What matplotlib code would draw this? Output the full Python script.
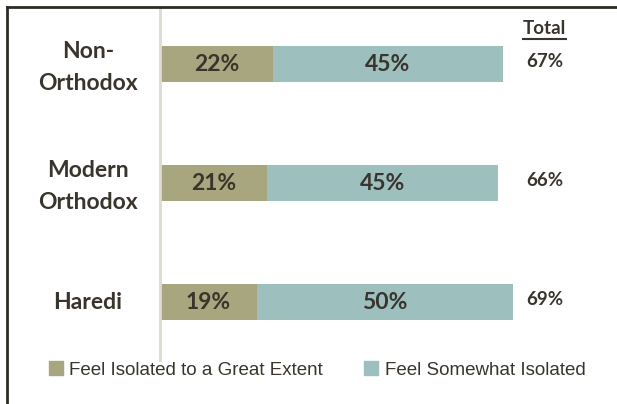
import matplotlib
matplotlib.use("Agg")
import matplotlib.pyplot as plt
from matplotlib.lines import Line2D
from matplotlib.patches import Patch
from matplotlib import transforms

# ── data ──────────────────────────────────────────────────────────────────────
groups = ["Haredi", "Modern\nOrthodox", "Non-\nOrthodox"]
great_extent = [19, 21, 22]
somewhat = [50, 45, 45]
series_names = ["Feel Isolated to a Great Extent", "Feel Somewhat Isolated"]

olive = "#A8A67E"
teal = "#9DBFBE"
ink = "#39352D"

plt.rcParams["font.family"] = ["Lato", "DejaVu Sans"]

fig = plt.figure(figsize=(6.17, 4.04), dpi=100)
ax = fig.add_axes([160 / 617, 1 - 360 / 404, 457 / 617, 353 / 404])

ypos = list(range(len(groups)))
ax.barh(ypos, great_extent, height=0.31, color=olive)
ax.barh(ypos, somewhat, left=great_extent, height=0.31, color=teal)

ax.set_xlim(0, 89.3)
ax.set_ylim(-0.487, 2.479)

for y, a, b in zip(ypos, great_extent, somewhat):
    ax.text(a / 2, y, f"{a}%", ha="center", va="center",
            fontsize=16.5, fontweight="bold", color=ink)
    ax.text(a + b / 2, y, f"{b}%", ha="center", va="center",
            fontsize=16.5, fontweight="bold", color=ink)
    ax.text(75.2, y + 0.02, f"{a + b}%", ha="center", va="center",
            fontsize=13.5, fontweight="bold", color=ink)

tot = ax.text(75.2, 2.30, "Total", ha="center", va="center",
              fontsize=13.5, fontweight="bold", color=ink)

# category labels, centred about 72px left of the axis line
lab_tr = transforms.offset_copy(ax.get_yaxis_transform(), fig=fig, x=-72, units="dots")
for y, g in zip(ypos, groups):
    shift = -3.5 if "\n" in g else 0
    ax.text(0, y, g, transform=transforms.offset_copy(lab_tr, fig=fig, y=shift, units="dots"),
            ha="center", va="center", fontsize=16.5, fontweight="bold",
            color=ink, linespacing=1.6)

ax.set_yticks([])
ax.set_xticks([])

for s in ["top", "right", "bottom"]:
    ax.spines[s].set_visible(False)
ax.spines["left"].set_color("#DEDBD2")
ax.spines["left"].set_linewidth(2)

# legend
handles = [Patch(color=olive), Patch(color=teal)]
fig.legend(handles, series_names, loc="center", bbox_to_anchor=(0.514, 0.084),
           ncol=2, frameon=False, handlelength=0.75, handleheight=0.75,
           handletextpad=0.35, columnspacing=2.2,
           prop={"family": ["Liberation Sans", "DejaVu Sans"], "size": 13.5},
           labelcolor=ink)

# outer frame (top and left only)
fig.add_artist(Line2D([7 / 617, 1], [1 - 7 / 404, 1 - 7 / 404], color="#2E2B26", lw=2))
fig.add_artist(Line2D([7 / 617, 7 / 617], [0, 1 - 7 / 404], color="#2E2B26", lw=2))

# underline for "Total"
fig.canvas.draw()
bb = tot.get_window_extent().transformed(fig.transFigure.inverted())
fig.add_artist(Line2D([bb.x0, bb.x1], [bb.y0 - 0.006, bb.y0 - 0.006], color=ink, lw=1.5))

fig.savefig("out.png", dpi=100)
